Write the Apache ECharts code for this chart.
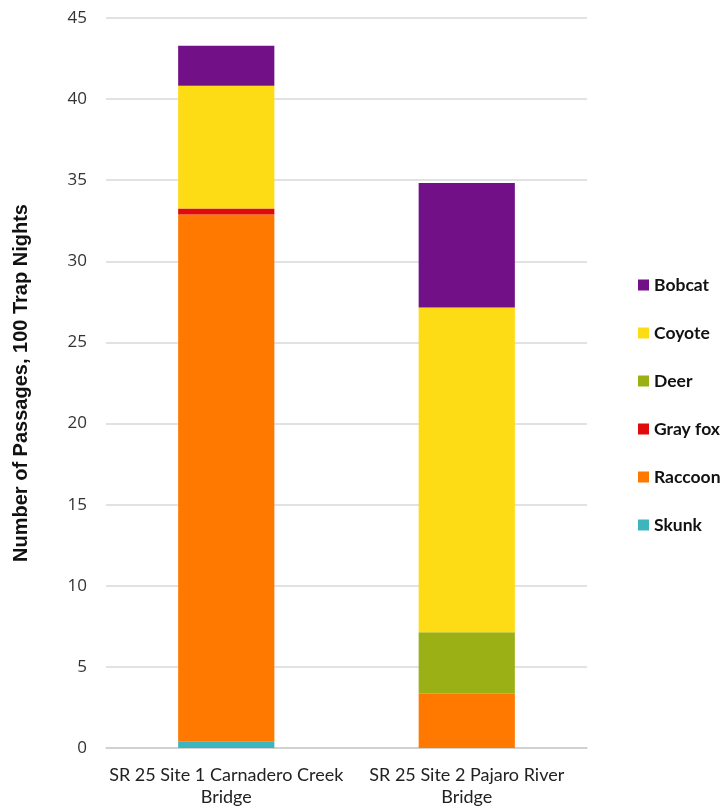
<!DOCTYPE html>
<html>
<head>
<meta charset="utf-8">
<script src="https://cdn.jsdelivr.net/npm/echarts@6/dist/echarts.min.js"></script>
<style>
  html, body { margin: 0; padding: 0; background: #fff; }
  #chart { width: 727px; height: 810px; }
</style>
</head>
<body>
<div id="chart"></div>
<script>
// Crossing sites (x categories)
const sites = ['SR 25 Site 1 Carnadero Creek\nBridge', 'SR 25 Site 2 Pajaro River\nBridge'];

// Passages per 100 trap nights, per species, one value per site
const skunk   = [0.41, 0];
const raccoon = [32.47, 3.35];
const grayFox = [0.37, 0];
const deer    = [0, 3.79];
const coyote  = [7.58, 20.02];
const bobcat  = [2.46, 7.67];

const yTicks = [0, 5, 10, 15, 20, 25, 30, 35, 40, 45];

// Stack order, bottom to top
const speciesSeries = [
  { name: 'Skunk',    data: skunk,   color: '#3DB5BE' },
  { name: 'Raccoon',  data: raccoon, color: '#FF7800' },
  { name: 'Gray fox', data: grayFox, color: '#E00B0B' },
  { name: 'Deer',     data: deer,    color: '#9AB015' },
  { name: 'Coyote',   data: coyote,  color: '#FDDC16' },
  { name: 'Bobcat',   data: bobcat,  color: '#721087' }
];

const chart = echarts.init(document.getElementById('chart'), null, { renderer: 'canvas' });

chart.setOption({
  animation: false,
  backgroundColor: '#ffffff',
  grid: { left: 106, right: 140, top: 18, bottom: 62, containLabel: false },
  legend: {
    orient: 'vertical',
    left: 633,
    top: 271,
    itemWidth: 11,
    itemHeight: 11,
    itemGap: 30,
    icon: 'rect',
    data: speciesSeries.map(s => s.name).reverse(),
    textStyle: {
      fontFamily: 'Lato, "Liberation Sans", sans-serif',
      fontWeight: 'bold',
      fontSize: 17.5,
      color: '#111'
    }
  },
  xAxis: {
    type: 'category',
    data: sites,
    axisLine: { lineStyle: { color: '#cccccc', width: 1.5 } },
    axisTick: { show: false },
    axisLabel: {
      fontFamily: 'Lato, "Open Sans", sans-serif',
      fontSize: 18,
      color: '#222',
      lineHeight: 22,
      margin: 16,
      interval: 0
    }
  },
  yAxis: {
    type: 'value',
    min: 0,
    max: 45,
    interval: 5,
    name: 'Number of Passages, 100 Trap Nights',
    nameLocation: 'middle',
    nameGap: 75,
    nameTextStyle: {
      fontFamily: '"Liberation Sans Narrow", "Liberation Sans", sans-serif',
      fontWeight: 'bold',
      fontSize: 20,
      color: '#111'
    },
    axisLine: { show: false },
    axisTick: { show: false },
    splitLine: { lineStyle: { color: '#d9d9d9', width: 1.5 } },
    axisLabel: {
      fontFamily: '"Open Sans", Lato, sans-serif',
      fontSize: 17,
      color: '#333',
      margin: 19,
      formatter: v => (yTicks.includes(v) ? String(v) : '')
    }
  },
  series: speciesSeries.map(s => ({
    name: s.name,
    type: 'bar',
    stack: 'total',
    barWidth: '40%',
    data: s.data,
    itemStyle: { color: s.color }
  }))
});
</script>
</body>
</html>
